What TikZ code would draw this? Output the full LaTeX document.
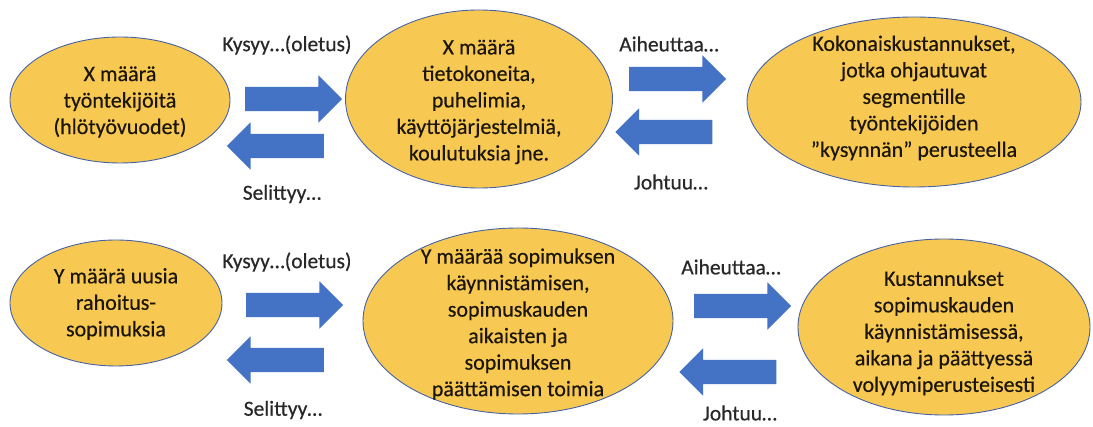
\documentclass[tikz,border=0pt]{standalone}
\usepackage{fontspec}
\setmainfont{Carlito}
\newfontfamily\heavyfont{Carlito}[FakeBold=0.4]
\usetikzlibrary{shapes.geometric,shapes.arrows}
\definecolor{ellfill}{RGB}{248,201,82}
\definecolor{ellline}{RGB}{70,98,165}
\definecolor{arrblue}{RGB}{68,114,196}
\definecolor{txtcol}{RGB}{28,22,10}
\definecolor{lblcol}{RGB}{40,40,40}
\begin{document}
\begin{tikzpicture}[x=1pt,y=-1pt,
  ellbox/.style={ellipse, draw=ellline, line width=0.9pt, fill=ellfill, inner sep=0pt},
  txt/.style={align=center, font=\heavyfont\fontsize{22}{26.5}\selectfont, text=txtcol, inner sep=0pt},
  lbl/.style={font=\heavyfont\fontsize{21.5}{24}\selectfont, text=lblcol, inner sep=0pt},
  rarrow/.style={single arrow, fill=arrblue, draw=none, inner xsep=0pt, inner ysep=12pt,
    single arrow head extend=11.5pt, single arrow head indent=0pt, minimum height=97pt},
  larrow/.style={rarrow, shape border rotate=180}]
\fill[white] (0,0) rectangle (1093,427);
\useasboundingbox (0,0) rectangle (1093,427);

% Row 1
\node[ellbox, minimum width=220, minimum height=126] (e1) at (120,100) {};
\node[txt] (t1) at (120,102) {X määrä\\työntekijöitä\\(hlötyövuodet)};
\node[ellbox, minimum width=267, minimum height=178] (e2) at (479,99) {};
\node[txt] (t2) at (479,102) {X määrä\\tietokoneita,\\puhelimia,\\käyttöjärjestelmiä,\\koulutuksia jne.};
\node[ellbox, minimum width=334, minimum height=170] (e3) at (914,102) {};
\node[txt] (t3) at (914,98) {Kokonaiskustannukset,\\jotka ohjautuvat\\segmentille\\työntekijöiden\\”kysynnän” perusteella};

\node[rarrow] (ra1) at (287.5,99) {};
\node[larrow] (la1) at (281.5,146) {};
\node[rarrow] (ra2) at (671.5,79) {};
\node[larrow] (la2) at (670,132) {};
\node[lbl] (k1) at (287,45) {Kysyy…(oletus)};
\node[lbl] (s1) at (282,194) {Selittyy…};
\node[lbl] (a1) at (669,44) {Aiheuttaa…};
\node[lbl] (j1) at (671,182) {Johtuu…};

% Row 2
\node[ellbox, minimum width=212, minimum height=126] (e4) at (116,303) {};
\node[txt] (t4) at (116,304) {Y määrä uusia\\rahoitus-\\sopimuksia};
\node[ellbox, minimum width=310, minimum height=186] (e5) at (518,321) {};
\node[txt] (t5) at (518,324) {Y määrää sopimuksen\\käynnistämisen,\\sopimuskauden\\aikaisten ja\\sopimuksen\\päättämisen toimia};
\node[ellbox, minimum width=292, minimum height=176] (e6) at (944,327) {};
\node[txt] (t6) at (944,333) {Kustannukset\\sopimuskauden\\käynnistämisessä,\\aikana ja päättyessä\\volyymiperusteisesti};

\node[rarrow] (ra3) at (288.5,305) {};
\node[larrow] (la3) at (281.5,360) {};
\node[rarrow] (ra4) at (736.5,306) {};
\node[larrow] (la4) at (734,372) {};
\node[lbl] (k2) at (287,262) {Kysyy…(oletus)};
\node[lbl] (s2) at (283,410) {Selittyy…};
\node[lbl] (a2) at (731,267) {Aiheuttaa…};
\node[lbl] (j2) at (740,413) {Johtuu…};
\end{tikzpicture}
\end{document}
